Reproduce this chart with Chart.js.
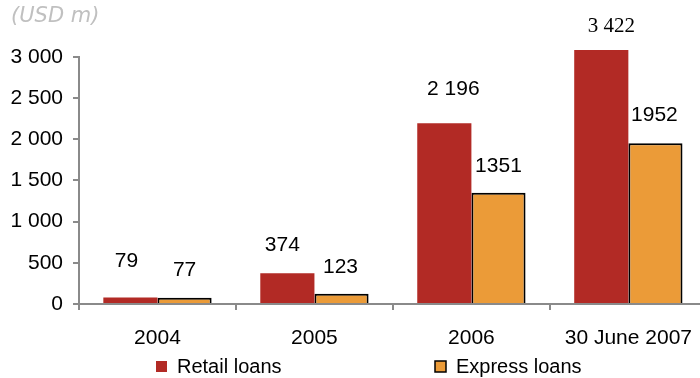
<!DOCTYPE html>
<html>
<head>
<meta charset="utf-8">
<script src="https://cdn.jsdelivr.net/npm/chart.js@4"></script>
<style>
  html, body { margin: 0; padding: 0; background: #fff; overflow: hidden; width: 700px; height: 378px; }
  #loansChart { display: block; }
</style>
</head>
<body>
<canvas id="loansChart" width="708" height="378"></canvas>
<script>
const periods = ['2004', '2005', '2006', '30 June 2007'];
const retailLoans = [79, 374, 2196, 3422];
const expressLoans = [77, 123, 1351, 1952];
const yTicks = [0, 500, 1000, 1500, 2000, 2500, 3000];
const seriesNames = ['Retail loans', 'Express loans'];
const unitLabel = '(USD m)';

const RETAIL = '#b22a25';
const EXPRESS = '#eb9b38';
const AXIS = '#8a8a8a';
const FONT = "'Liberation Sans', Arial, sans-serif";
const SERIF = "'Liberation Serif', 'Times New Roman', serif";

// "2 196" style grouping
const spaced = v => String(v).replace(/\B(?=(\d{3})+(?!\d))/g, ' ');

// value labels sit 27px over the bar top, some nudged by hand [dx, dy]
const labelNudge = [
    [[-4, -9], [-5, -1], [9, -7], [10, 3]],
    [[0, 0], [-1, 0], [0, 0], [-1, -1]]
];
const labelSerif = [
    [false, false, false, true],
    [false, false, false, false]
];

const extras = {
    id: 'extras',
    afterDatasetsDraw(chart) {
        const { ctx, chartArea } = chart;
        const yScale = chart.scales.y;
        ctx.save();

        // value labels
        ctx.textAlign = 'center';
        ctx.textBaseline = 'middle';
        ctx.fillStyle = '#000';
        chart.data.datasets.forEach((ds, si) => {
            chart.getDatasetMeta(si).data.forEach((bar, i) => {
                const [dx, dy] = labelNudge[si][i];
                const top = Math.max(bar.y, chartArea.top);
                ctx.font = labelSerif[si][i] ? '21px ' + SERIF : '21px ' + FONT;
                const text = si === 0 ? spaced(ds.data[i]) : String(ds.data[i]);
                ctx.fillText(text, bar.x + dx, top - 27 + dy);
            });
        });

        // y axis line only from the top tick down to zero
        ctx.strokeStyle = AXIS;
        ctx.lineWidth = 2;
        ctx.beginPath();
        ctx.moveTo(chartArea.left, yScale.getPixelForValue(yTicks[yTicks.length - 1]) - 1);
        ctx.lineTo(chartArea.left, yScale.getPixelForValue(0));
        ctx.stroke();

        // unit caption
        ctx.textAlign = 'left';
        ctx.font = "italic 21px 'DejaVu Sans', Verdana, sans-serif";
        ctx.fillStyle = '#c0c0c0';
        ctx.fillText(unitLabel, 11, 17);

        // legend
        ctx.font = '20px ' + FONT;
        ctx.fillStyle = RETAIL;
        ctx.fillRect(156, 361, 11, 11);
        ctx.fillStyle = '#000';
        ctx.fillText(seriesNames[0], 177, 367);

        ctx.fillStyle = EXPRESS;
        ctx.fillRect(435, 361, 11, 11);
        ctx.strokeStyle = '#000';
        ctx.lineWidth = 1.5;
        ctx.strokeRect(435, 361, 11, 11);
        ctx.fillStyle = '#000';
        ctx.fillText(seriesNames[1], 456, 367);

        ctx.restore();
    }
};

new Chart(document.getElementById('loansChart'), {
    type: 'bar',
    data: {
        labels: periods,
        datasets: [{
            label: seriesNames[0],
            data: retailLoans,
            backgroundColor: RETAIL,
            borderWidth: 0,
            clip: { top: 0, bottom: 5, left: 5, right: 5 }
        }, {
            label: seriesNames[1],
            data: expressLoans,
            backgroundColor: EXPRESS,
            borderColor: '#000',
            borderWidth: 2,
            clip: { top: 0, bottom: 5, left: 5, right: 5 }
        }]
    },
    options: {
        responsive: false,
        animation: false,
        layout: { padding: { top: 50, left: 0, right: 0, bottom: 14 } },
        categoryPercentage: 0.69,
        barPercentage: 1.0,
        scales: {
            x: {
                grid: { drawOnChartArea: false, tickLength: 6, color: AXIS, lineWidth: 2, offset: true },
                border: { display: true, color: AXIS, width: 2 },
                ticks: { font: { family: FONT, size: 21 }, color: '#000', padding: 16, maxRotation: 0, autoSkip: false },
                afterFit: s => { s.height = 60; }
            },
            y: {
                min: 0,
                max: 3085,
                afterBuildTicks: s => { s.ticks = yTicks.map(v => ({ value: v })); },
                grid: { drawOnChartArea: false, tickLength: 6, color: AXIS, lineWidth: 2 },
                border: { display: false },
                ticks: { font: { family: FONT, size: 21 }, color: '#000', padding: 10, callback: v => spaced(v) },
                afterFit: s => { s.width = 79; }
            }
        },
        plugins: {
            legend: { display: false },
            tooltip: { enabled: false }
        }
    },
    plugins: [extras]
});
</script>
</body>
</html>
